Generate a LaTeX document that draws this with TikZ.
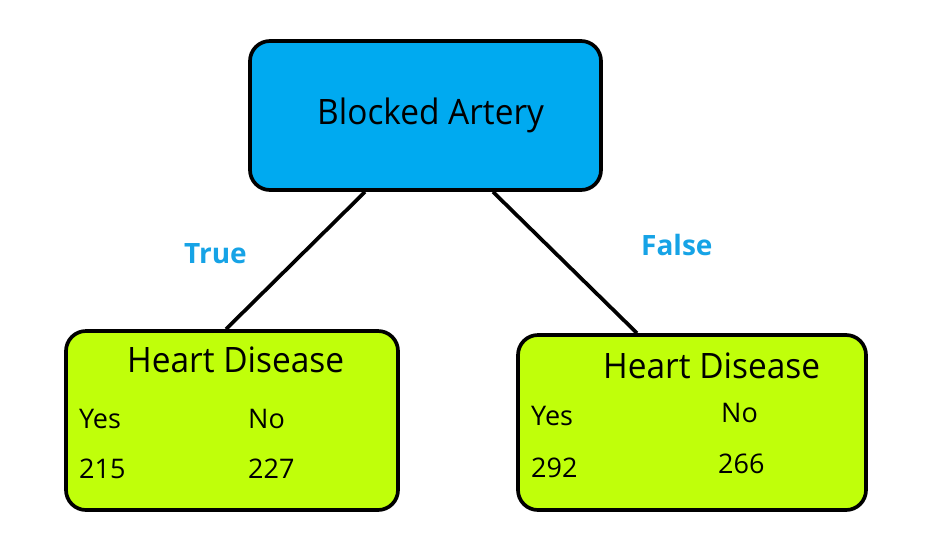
\documentclass[tikz,border=0pt]{standalone}
\usepackage{fontspec}
\setmainfont{Open Sans}
\newfontfamily\narrowfont[FakeStretch=0.955]{Open Sans}
\usetikzlibrary{calc}
\definecolor{topblue}{RGB}{0,170,240}
\definecolor{leafgreen}{RGB}{192,255,10}
\definecolor{lblblue}{RGB}{22,163,230}
\tikzset{
  box/.style={draw=black, line width=3.7pt, rounded corners=20pt, inner sep=0pt},
  edge/.style={draw=black, line width=3.7pt},
  txt/.style={anchor=base west, inner sep=0pt, font=\narrowfont\fontsize{35}{40}\selectfont},
  small/.style={anchor=base west, inner sep=0pt, font=\fontsize{27}{32}\selectfont},
  lbl/.style={anchor=base west, inner sep=0pt, text=lblblue, font=\fontsize{28}{32}\selectfont\bfseries},
}
\begin{document}
\begin{tikzpicture}[x=1pt,y=1pt]
\useasboundingbox (0,0) rectangle (952,-547);
\node[box, fill=topblue, minimum width=351pt, minimum height=149pt] (top) at (425.5,-115.5) {};
\node[box, fill=leafgreen, minimum width=332pt, minimum height=179pt] (left) at (232,-420.5) {};
\node[box, fill=leafgreen, minimum width=348pt, minimum height=175pt] (right) at (692,-422.5) {};
\draw[edge] ([xshift=-60.5pt]top.south) -- ([xshift=-6pt]left.north);
\draw[edge] ([xshift=67.5pt]top.south) -- ([xshift=-55pt]right.north);
\node[txt] (t0) at (317,-124) {Blocked Artery};
\node[txt] (t1) at (127,-372) {Heart Disease};
\node[small] (t2) at (79,-428) {Yes};
\node[small] (t3) at (248,-428) {No};
\node[small] (t4) at (79,-478) {215};
\node[small] (t5) at (248,-478) {227};
\node[txt] (t6) at (603,-378) {Heart Disease};
\node[small] (t7) at (531,-425) {Yes};
\node[small] (t8) at (721,-422) {No};
\node[small] (t9) at (531,-477) {292};
\node[small] (t10) at (718,-473) {266};
\node[lbl] (lt) at (184,-263) {True};
\node[lbl] (lf) at (641,-255) {False};
\end{tikzpicture}
\end{document}
